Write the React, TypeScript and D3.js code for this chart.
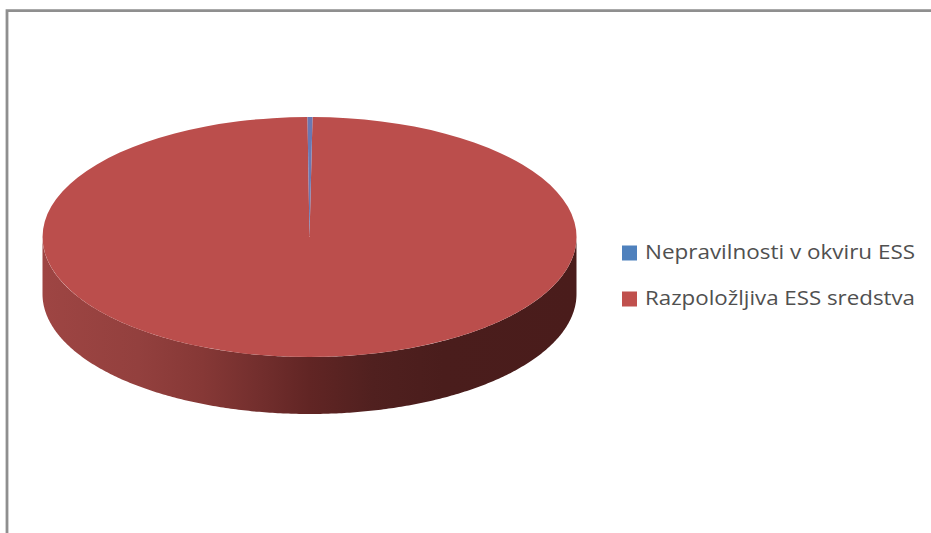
import React from "react";
import * as d3 from "d3";

// Budget share shown as a tilted 3D pie
const categories = ["Nepravilnosti v okviru ESS", "Razpoložljiva ESS sredstva"];
const shares = [0.3, 99.7];
const sliceColors = ["#6b78b2", "#bb4e4c"];
const swatchColors = ["#4f81bd", "#c0504d"];
const wallStops = [
  { at: 0, color: "#9e4543" },
  { at: 0.18, color: "#93403e" },
  { at: 0.3, color: "#863836" },
  { at: 0.42, color: "#702d2c" },
  { at: 0.5, color: "#612524" },
  { at: 0.62, color: "#50201f" },
  { at: 0.75, color: "#4a1d1c" },
  { at: 1, color: "#4a1c1b" },
];

const WIDTH = 931;
const HEIGHT = 533;
const CX = 309.5;
const CY = 237;
const RX = 267;
const RY = 120;
const DEPTH = 57;

const START_ANGLE = -0.0075;
const slices = d3
  .pie<number>()
  .sort(null)
  .startAngle(START_ANGLE)
  .endAngle(2 * Math.PI + START_ANGLE)(shares);
const sliceArc = d3.arc<any>().innerRadius(0).outerRadius(RX);

// Front half of the rim, swept from the right edge to the left edge
const wallAngles = d3.range(0, Math.PI + 0.005, 0.01);
const wallPath = d3
  .area<number>()
  .x((t) => CX + RX * Math.cos(t))
  .y0((t) => CY + RY * Math.sin(t))
  .y1((t) => CY + DEPTH + RY * Math.sin(t))(wallAngles);

const legendY = d3.scaleLinear().domain([0, 1]).range([253, 299]);

export default function App() {
  return (
    <svg
      width={WIDTH}
      height={HEIGHT}
      style={{ position: "absolute", left: 0, top: 0, background: "#fff" }}
    >
      <defs>
        <linearGradient id="wall" gradientUnits="userSpaceOnUse" x1={CX - RX} x2={CX + RX} y1={0} y2={0}>
          {wallStops.map((s) => (
            <stop key={s.at} offset={s.at} stopColor={s.color} />
          ))}
        </linearGradient>
      </defs>

      <path d="M7 533V10.6H931" fill="none" stroke="#8f8f8f" strokeWidth={2.8} />

      <path d={wallPath ?? ""} fill="url(#wall)" />
      <g transform={`translate(${CX},${CY}) scale(1,${RY / RX})`}>
        <path d={sliceArc(slices[1]) ?? ""} fill={sliceColors[1]} />
        <path d={sliceArc(slices[0]) ?? ""} fill={sliceColors[0]} />
      </g>

      {categories.map((name, i) => (
        <g key={name} transform={`translate(0,${legendY(i)})`}>
          <rect x={622} y={-7.5} width={15} height={15} fill={swatchColors[i]} />
          <text
            x={645}
            y={6}
            fontFamily="'Open Sans', Lato, sans-serif"
            fontSize={20}
            fill="#505050"
            textLength={270}
            lengthAdjust="spacingAndGlyphs"
          >
            {name}
          </text>
        </g>
      ))}
    </svg>
  );
}
